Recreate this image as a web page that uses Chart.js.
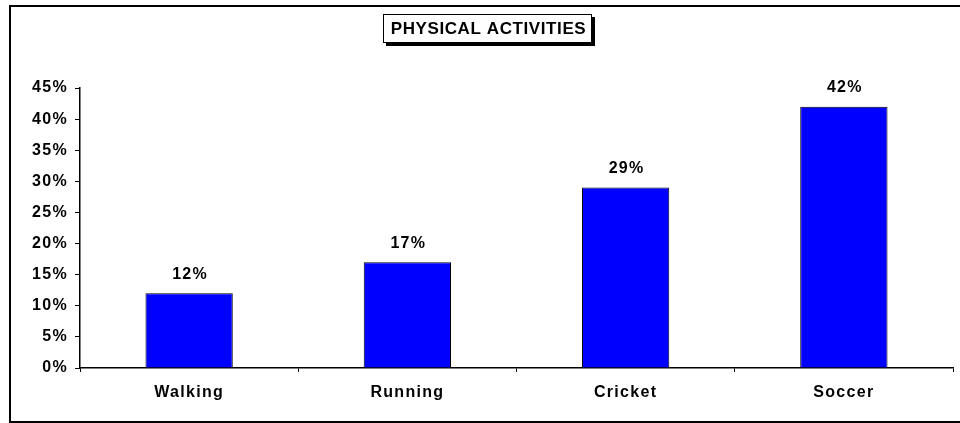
<!DOCTYPE html>
<html>
<head>
<meta charset="utf-8">
<title>Physical Activities</title>
<script src="https://cdn.jsdelivr.net/npm/chart.js@4.4.1/dist/chart.umd.min.js"></script>
<style>
  html, body { margin: 0; padding: 0; background: #ffffff; }
  #wrap { width: 960px; height: 423px; position: relative; }
</style>
</head>
<body>
<div id="wrap"><canvas id="chart"></canvas></div>
<script>
// categories and share of people for each activity (in %)
const activities = ["Walking", "Running", "Cricket", "Soccer"];
const shares = [12, 17, 29, 42];
const yTicks = [0, 5, 10, 15, 20, 25, 30, 35, 40, 45];
const chartTitle = "PHYSICAL ACTIVITIES";

const FONT = "'Liberation Sans', Arial, Helvetica, sans-serif";
const SPACING = "1.3px";

// wide-looking labels: spread the letters a little for every text the chart draws
const spacingPlugin = {
  id: "spacing",
  beforeUpdate(chart) { chart.ctx.letterSpacing = SPACING; },
  beforeDraw(chart) { chart.ctx.letterSpacing = SPACING; }
};

// frame around the whole chart and the boxed title with its shadow
const framePlugin = {
  id: "frame",
  afterDraw(chart) {
    const ctx = chart.ctx;
    ctx.save();
    ctx.strokeStyle = "#000";
    ctx.lineWidth = 2;
    ctx.beginPath();
    ctx.moveTo(970, 6);
    ctx.lineTo(10, 6);
    ctx.lineTo(10, 422);
    ctx.lineTo(970, 422);
    ctx.stroke();

    // title box
    ctx.font = "bold 17px " + FONT;
    ctx.letterSpacing = "0.6px";
    const w = 209, h = 29, x = 383, y = 14;
    ctx.fillStyle = "#000";
    ctx.fillRect(x + 3, y + 3, w, h);
    ctx.fillStyle = "#fff";
    ctx.fillRect(x, y, w, h);
    ctx.lineWidth = 1;
    ctx.strokeRect(x + 0.5, y + 0.5, w - 1, h - 1);
    ctx.fillStyle = "#000";
    ctx.textAlign = "center";
    ctx.textBaseline = "middle";
    ctx.fillText(chartTitle, x + w / 2 + 1, y + h / 2 + 1);
    ctx.restore();
  }
};

// value labels above the bars
const valueLabels = {
  id: "valueLabels",
  afterDatasetsDraw(chart) {
    const ctx = chart.ctx;
    const meta = chart.getDatasetMeta(0);
    ctx.save();
    ctx.font = "bold 16px " + FONT;
    ctx.letterSpacing = SPACING;
    ctx.fillStyle = "#000";
    ctx.textAlign = "center";
    ctx.textBaseline = "middle";
    meta.data.forEach((bar, i) => {
      ctx.fillText(shares[i] + "%", bar.x + 1, bar.y - 19);
    });
    ctx.restore();
  }
};

new Chart(document.getElementById("chart"), {
  type: "bar",
  data: {
    labels: activities,
    datasets: [{
      data: shares,
      backgroundColor: "#0000ff",
      borderColor: "#000",
      borderWidth: 1,
      barPercentage: 0.4,
      categoryPercentage: 1
    }]
  },
  options: {
    responsive: true,
    maintainAspectRatio: false,
    animation: false,
    layout: { padding: { top: 88, right: 7, left: 0, bottom: 0 } },
    plugins: {
      legend: { display: false },
      tooltip: { enabled: false }
    },
    scales: {
      x: {
        grid: { drawOnChartArea: false, tickLength: 4, color: "#000", offset: true },
        border: { color: "#000", width: 1.5 },
        ticks: { color: "#000", padding: 11, font: { family: FONT, size: 16, weight: "bold" } },
        afterFit(scale) { scale.height = 55; }
      },
      y: {
        min: 0,
        max: 45,
        afterBuildTicks(scale) { scale.ticks = yTicks.map(v => ({ value: v })); },
        grid: { drawOnChartArea: false, tickLength: 5, color: "#000" },
        border: { color: "#000", width: 1.5 },
        ticks: {
          color: "#000",
          padding: 7,
          font: { family: FONT, size: 16, weight: "bold" },
          callback: v => v + "%"
        },
        afterFit(scale) { scale.width = 80; }
      }
    }
  },
  plugins: [spacingPlugin, framePlugin, valueLabels]
});
</script>
</body>
</html>
